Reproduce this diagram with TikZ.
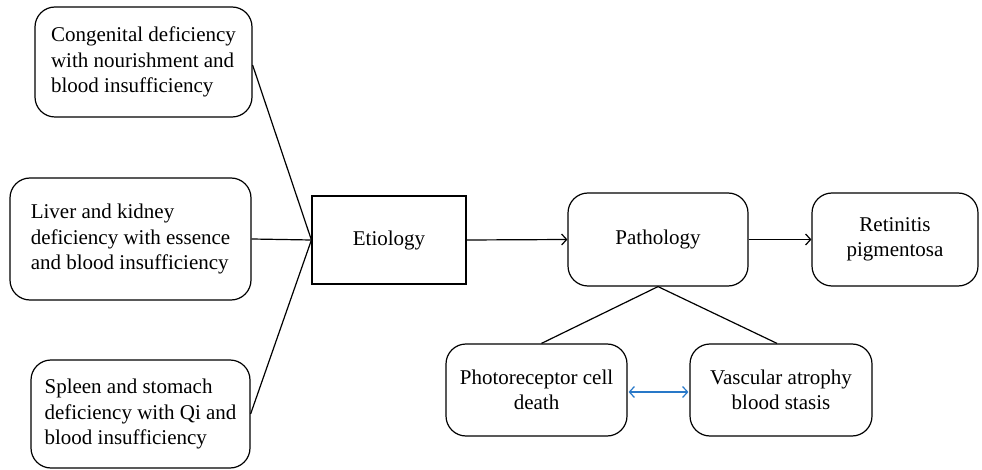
\documentclass[tikz,border=0pt]{standalone}
\usepackage{fontspec}
\setmainfont{Liberation Serif}
\usetikzlibrary{arrows.meta,calc}
\definecolor{arrowblue}{RGB}{40,120,200}
\begin{document}
\begin{tikzpicture}[x=1pt,y=-1pt,
  every node/.style={font=\fontsize{21}{25.5}\selectfont, inner sep=0pt, line width=1.2pt},
  rbox/.style={draw, rectangle, rounded corners=20pt},
  sbox/.style={draw, rectangle},
  conn/.style={line width=1.2pt},
  arr/.style={line width=1.2pt, -{Straight Barb[length=5pt,width=11pt]}},
  dblarr/.style={line width=1.2pt, arrowblue, {Straight Barb[length=5pt,width=11pt]}-{Straight Barb[length=5pt,width=11pt]}}
]
\useasboundingbox (0,0) rectangle (982,470);
\node[rbox, minimum width=217pt, minimum height=110pt, align=left] (b1) at (143.5,62) {Congenital deficiency\\with nourishment and\\blood insufficiency};
\node[rbox, minimum width=241pt, minimum height=122pt, align=left] (b2) at (130.5,239) {Liver and kidney\\deficiency with essence\\and blood insufficiency};
\node[rbox, minimum width=219pt, minimum height=108pt, align=left] (b3) at (140.5,414) {Spleen and stomach\\deficiency with Qi and\\blood insufficiency};
\node[sbox, minimum width=154pt, minimum height=88pt] (etio) at (389,240) {Etiology};
\node[rbox, minimum width=180pt, minimum height=93pt] (path) at (658,239.5) {Pathology};
\node[rbox, minimum width=166pt, minimum height=93pt, align=center] (ret) at (895,239.5) {Retinitis\\pigmentosa};
\node[rbox, minimum width=181pt, minimum height=92pt, align=center] (photo) at (536.5,390) {Photoreceptor cell\\death};
\node[rbox, minimum width=182pt, minimum height=92pt, align=center] (vasc) at (781,390) {Vascular atrophy\\blood stasis};
\draw[conn] ($(b1.east)+(0,3)$) -- (etio.west);
\draw[conn] (b2.east) -- (etio.west);
\draw[conn] (b3.east) -- (etio.west);
\draw[arr] (etio.east) -- (path.west);
\draw[arr] (path.east) -- (ret.west);
\draw[conn] ($(photo.north)+(5,0)$) -- (path.south) -- ($(vasc.north)+(-4,0)$);
\draw[dblarr] ($(photo.east)+(1,2)$) -- ($(vasc.west)+(-1,2)$);
\end{tikzpicture}
\end{document}
